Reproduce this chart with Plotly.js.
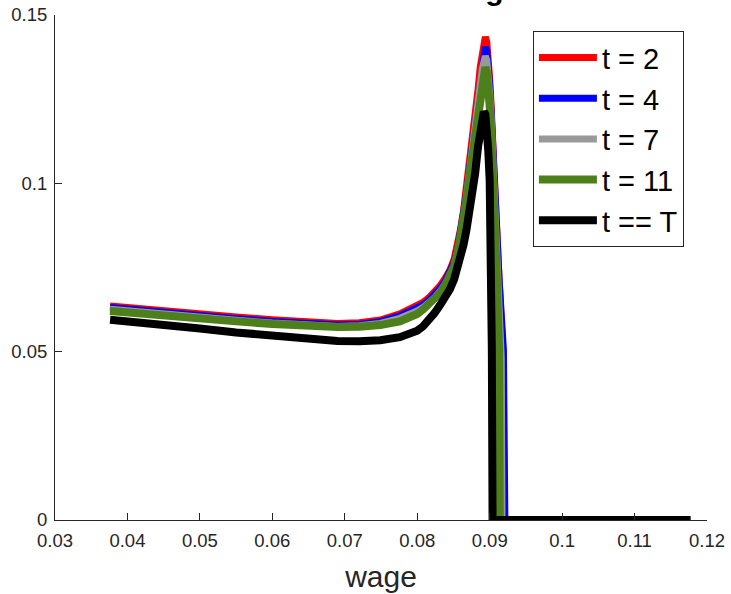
<!DOCTYPE html>
<html>
<head>
<meta charset="utf-8">
<script src="https://cdn.plot.ly/plotly-3.0.1.min.js"></script>
<style>html,body{margin:0;padding:0;background:#fff;}#chart{width:731px;height:594px;}</style>
</head>
<body>
<div id="chart"></div>
<script>
// Series names
const seriesNames = ["t = 2", "t = 4", "t = 7", "t = 11", "t == T"];

// t = 2 (red)
const wageT2 = [0.0376, 0.040, 0.045, 0.050, 0.055, 0.060, 0.065, 0.069, 0.072, 0.0749, 0.0776, 0.0790, 0.0800, 0.0808, 0.0816, 0.0824, 0.0832, 0.0838, 0.0845, 0.0851, 0.0856, 0.0860, 0.0864, 0.0868, 0.0872, 0.0876, 0.0880, 0.0884, 0.0887, 0.0890, 0.0892, 0.0894, 0.0896, 0.0898, 0.0900, 0.0902, 0.0904, 0.0906, 0.0910, 0.0913, 0.0918, 0.0920, 0.1177];
const densT2 = [0.0636, 0.0631, 0.0621, 0.0612, 0.0603, 0.0595, 0.0588, 0.0584, 0.0586, 0.0594, 0.0612, 0.0625, 0.0636, 0.0646, 0.0660, 0.0676, 0.0697, 0.0716, 0.0742, 0.0775, 0.0818, 0.0866, 0.0920, 0.0985, 0.1060, 0.1130, 0.1205, 0.1280, 0.1345, 0.1400, 0.1428, 0.1435, 0.1420, 0.1375, 0.1310, 0.1230, 0.1120, 0.1010, 0.0860, 0.0713, 0.0505, 0, 0];

// t = 4 (blue)
const wageT4 = [0.0376, 0.040, 0.045, 0.050, 0.055, 0.060, 0.065, 0.069, 0.072, 0.0749, 0.0776, 0.0790, 0.0800, 0.0808, 0.0816, 0.0824, 0.0832, 0.0838, 0.0845, 0.0851, 0.0856, 0.0860, 0.0864, 0.0868, 0.0872, 0.0876, 0.0880, 0.0884, 0.0887, 0.0890, 0.0892, 0.0894, 0.0896, 0.0898, 0.0900, 0.0902, 0.0904, 0.0906, 0.0910, 0.0913, 0.0919, 0.0921, 0.1177];
const densT4 = [0.0631, 0.0626, 0.0616, 0.0607, 0.0598, 0.0590, 0.0583, 0.0579, 0.0581, 0.0589, 0.0606, 0.0618, 0.0629, 0.0639, 0.0652, 0.0668, 0.0689, 0.0707, 0.0733, 0.0765, 0.0806, 0.0852, 0.0905, 0.0968, 0.1040, 0.1108, 0.1180, 0.1252, 0.1315, 0.1368, 0.1395, 0.1405, 0.1392, 0.1350, 0.1290, 0.1212, 0.1110, 0.1005, 0.0860, 0.0715, 0.0505, 0, 0];

// t = 7 (gray)
const wageT7 = [0.0376, 0.040, 0.045, 0.050, 0.055, 0.060, 0.065, 0.069, 0.072, 0.0749, 0.0776, 0.0790, 0.0800, 0.0808, 0.0816, 0.0824, 0.0832, 0.0838, 0.0845, 0.0851, 0.0856, 0.0860, 0.0864, 0.0868, 0.0872, 0.0876, 0.0880, 0.0884, 0.0887, 0.0890, 0.0892, 0.0894, 0.0896, 0.0898, 0.0900, 0.0902, 0.0904, 0.0906, 0.0910, 0.0913, 0.0916, 0.0917, 0.1177];
const densT7 = [0.0626, 0.0621, 0.0611, 0.0602, 0.0593, 0.0585, 0.0578, 0.0575, 0.0577, 0.0584, 0.0599, 0.0610, 0.0621, 0.0631, 0.0645, 0.0660, 0.0680, 0.0698, 0.0722, 0.0755, 0.0795, 0.0840, 0.0892, 0.0955, 0.1025, 0.1092, 0.1162, 0.1232, 0.1292, 0.1342, 0.1368, 0.1378, 0.1365, 0.1325, 0.1265, 0.1190, 0.1095, 0.0995, 0.0840, 0.0700, 0.0480, 0, 0];

// t = 11 (green)
const wageT11 = [0.0376, 0.040, 0.045, 0.050, 0.055, 0.060, 0.065, 0.069, 0.072, 0.0749, 0.0776, 0.0790, 0.0800, 0.0808, 0.0816, 0.0824, 0.0832, 0.0838, 0.0845, 0.0851, 0.0856, 0.0860, 0.0864, 0.0868, 0.0872, 0.0876, 0.0880, 0.0884, 0.0887, 0.0890, 0.0892, 0.0894, 0.0896, 0.0898, 0.0900, 0.0902, 0.0904, 0.0906, 0.0910, 0.0913, 0.0914, 0.1177];
const densT11 = [0.0621, 0.0616, 0.0607, 0.0599, 0.0590, 0.0582, 0.0576, 0.0573, 0.0574, 0.0579, 0.0590, 0.0600, 0.0612, 0.0625, 0.0640, 0.0656, 0.0675, 0.0695, 0.0722, 0.0755, 0.0795, 0.0840, 0.0892, 0.0952, 0.1020, 0.1085, 0.1150, 0.1220, 0.1275, 0.1320, 0.1340, 0.1345, 0.1330, 0.1290, 0.1230, 0.1150, 0.1060, 0.0960, 0.0713, 0.0505, 0, 0];

// t == T (black)
const wageTT = [0.0376, 0.040, 0.045, 0.050, 0.055, 0.060, 0.065, 0.069, 0.072, 0.0749, 0.0776, 0.0790, 0.0800, 0.0808, 0.0816, 0.0824, 0.0832, 0.0838, 0.0845, 0.0851, 0.0856, 0.0860, 0.0864, 0.0868, 0.0872, 0.0876, 0.0880, 0.0884, 0.0887, 0.0890, 0.0892, 0.0894, 0.0896, 0.0898, 0.0900, 0.0902, 0.0903, 0.0904, 0.1177];
const densTT = [0.0595, 0.0591, 0.0580, 0.0569, 0.0557, 0.0546, 0.0537, 0.0532, 0.0531, 0.0534, 0.0543, 0.0552, 0.0562, 0.0575, 0.0593, 0.0615, 0.0640, 0.0660, 0.0685, 0.0715, 0.0748, 0.0780, 0.0818, 0.0862, 0.0910, 0.0962, 0.1030, 0.1110, 0.1165, 0.1205, 0.1213, 0.1205, 0.1170, 0.1100, 0.1010, 0.0713, 0.0505, 0, 0];

const xTicks = [0.03, 0.04, 0.05, 0.06, 0.07, 0.08, 0.09, 0.1, 0.11, 0.12];
const xTickText = ["0.03", "0.04", "0.05", "0.06", "0.07", "0.08", "0.09", "0.1", "0.11", "0.12"];
const yTicks = [0, 0.05, 0.1, 0.15];
const yTickText = ["0", "0.05", "0.1", "0.15"];

const xs = [wageT2, wageT4, wageT7, wageT11, wageTT];
const ys = [densT2, densT4, densT7, densT11, densTT];
const colors = ["#ff0000", "#0000ff", "#999999", "#4d801a", "#000000"];
const widths = [7, 7, 7, 8, 8];

const traces = seriesNames.map((n, i) => ({
  type: "scatter", mode: "lines", name: n,
  x: xs[i], y: ys[i], legendgroup: "g" + i,
  line: {color: colors[i], width: widths[i], shape: "linear"},
  hoverinfo: "skip"
}));

const FONT = "Liberation Sans, Arial, Helvetica, sans-serif";
const layout = {
  width: 731, height: 594,
  margin: {l: 55, r: 24, t: 15, b: 74},
  paper_bgcolor: "#ffffff", plot_bgcolor: "#ffffff",
  font: {family: FONT, color: "#262626", size: 18},
  showlegend: true,
  xaxis: {
    range: [0.03, 0.12], tickvals: xTicks, ticktext: xTickText,
    ticks: "inside", ticklen: 7, tickcolor: "#262626", tickwidth: 1,
    showline: true, linecolor: "#262626", linewidth: 1,
    showgrid: false, zeroline: false, mirror: false,
    ticklabelstandoff: 4,
    tickfont: {family: FONT, size: 18.5, color: "#262626"},
    title: {text: "wage", font: {family: FONT, size: 30, color: "#262626"}, standoff: 15}
  },
  yaxis: {
    range: [0, 0.15], tickvals: yTicks, ticktext: yTickText,
    ticks: "inside", ticklen: 7, tickcolor: "#262626", tickwidth: 1,
    showline: true, linecolor: "#262626", linewidth: 1,
    showgrid: false, zeroline: false, mirror: false,
    ticklabelstandoff: 3,
    tickfont: {family: FONT, size: 18.5, color: "#262626"}
  },
  legend: {
    x: 0.733, y: 0.968, xanchor: "left", yanchor: "top",
    bgcolor: "#ffffff", bordercolor: "#262626", borderwidth: 1,
    font: {family: FONT, size: 29, color: "#000000"},
    traceorder: "grouped", tracegroupgap: 0, itemwidth: 58
  },
  annotations: [{
    text: "<b>Distribution of wages</b>", xref: "paper", yref: "paper",
    x: 0.506, y: 1.016, xanchor: "center", yanchor: "bottom",
    showarrow: false, borderpad: 0,
    font: {family: FONT, size: 30, color: "#000000"}
  }]
};

Plotly.newPlot("chart", traces, layout, {displayModeBar: false, staticPlot: true});
</script>
</body>
</html>
